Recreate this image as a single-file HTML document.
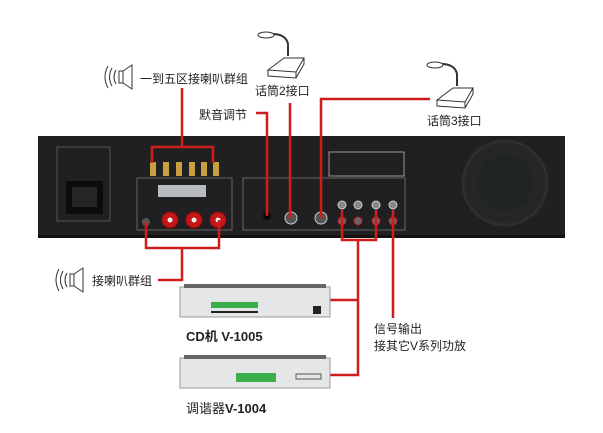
<!DOCTYPE html>
<html><head><meta charset="utf-8"><style>
body{margin:0;background:#fff;}
.t{position:absolute;font-family:"Liberation Sans","Noto Sans CJK SC",sans-serif;font-size:12px;color:#222;white-space:nowrap;}
</style></head><body>
<div style="position:relative;width:603px;height:433px;overflow:hidden">
<svg width="603" height="433" style="position:absolute;left:0;top:0">
<!-- back panel -->
<rect x="38" y="136" width="527" height="102" fill="#202022"/>
<rect x="38" y="235" width="527" height="3" fill="#111"/>
<rect x="57" y="147" width="53" height="74" fill="none" stroke="#555" stroke-width="1"/>
<rect x="66" y="181" width="37" height="33" fill="#0c0c0c"/>
<rect x="72" y="187" width="25" height="20" fill="#252525"/>
<rect x="137" y="178" width="95" height="52" fill="none" stroke="#666"/>
<rect x="158" y="185" width="48" height="12" fill="#b8bcc0"/>
<rect x="243" y="178" width="162" height="52" fill="none" stroke="#666"/>
<rect x="329" y="152" width="75" height="24" fill="none" stroke="#999"/>
<circle cx="505" cy="183" r="42" fill="#262628" stroke="#2e2e30" stroke-width="3"/>
<circle cx="505" cy="183" r="28" fill="#1f2522"/>
<g fill="#c9a040">
<rect x="150" y="162" width="6" height="14"/><rect x="163" y="162" width="6" height="14"/><rect x="176" y="162" width="6" height="14"/><rect x="189" y="162" width="6" height="14"/><rect x="201" y="162" width="6" height="14"/><rect x="213" y="162" width="6" height="14"/>
</g>
<g fill="#c41818" stroke="#8a0e0e"><circle cx="170" cy="220" r="8"/><circle cx="194" cy="220" r="8"/><circle cx="218" cy="220" r="8"/></g>
<g fill="#eee"><circle cx="170" cy="220" r="2.5"/><circle cx="194" cy="220" r="2.5"/><circle cx="218" cy="220" r="2.5"/></g>
<circle cx="146" cy="222" r="4" fill="#555"/>
<circle cx="267" cy="216" r="4" fill="#0a0a0a"/>
<circle cx="291" cy="218" r="6" fill="#555" stroke="#ccc"/>
<circle cx="321" cy="218" r="6" fill="#555" stroke="#ccc"/>
<g stroke="#ccc" fill="#888"><circle cx="342" cy="205" r="4"/><circle cx="358" cy="205" r="4"/><circle cx="376" cy="205" r="4"/><circle cx="393" cy="205" r="4"/></g>
<g stroke="#c41818" fill="#666"><circle cx="342" cy="221" r="4"/><circle cx="358" cy="221" r="4"/><circle cx="376" cy="221" r="4"/><circle cx="393" cy="221" r="4"/></g>
<!-- red lines -->
<g stroke="#d01c1c" stroke-width="2.5" fill="none">
<path d="M182 88 V147 M152 163 V147 H213 V163"/>
<path d="M256 113 H267 V216"/>
<path d="M290 103 V218"/>
<path d="M430 99 H321 V218"/>
<path d="M146 222 V248 H219 V220 M182 248 V280 H158"/>
<path d="M342 210 V240 H376 V210 M358 240 V375 H330 M358 300 H330"/>
<path d="M393 210 V318"/>
</g>
<!-- mics -->
<g stroke="#333" fill="#fff" stroke-width="1">
<path d="M288 56 V44 Q286 34 272 34" fill="none" stroke-width="2"/>
<ellipse cx="266" cy="35" rx="8" ry="3"/>
<path d="M268 70 L284 58 H304 L296 72 Z M268 70 V76 L296 78 V72 M296 78 L304 64 V58"/>
<path d="M457 86 V74 Q455 64 441 64" fill="none" stroke-width="2"/>
<ellipse cx="435" cy="65" rx="8" ry="3"/>
<path d="M437 100 L453 88 H473 L465 102 Z M437 100 V106 L465 108 V102 M465 108 L473 94 V88"/>
</g>
<!-- speakers -->
<g stroke="#333" fill="none">
<path d="M119 71 h4 v12 h-4 z M123 71 L132 65 V89 L123 83"/>
<path d="M116 70 q-4 7 0 14 M112 68 q-5 9 0 18 M108 66 q-6 11 0 22"/>
<path d="M70 274 h4 v12 h-4 z M74 274 L83 268 V292 L74 286"/>
<path d="M67 273 q-4 7 0 14 M63 271 q-5 9 0 18 M59 269 q-6 11 0 22"/>
</g>
<!-- devices -->
<rect x="180" y="287" width="150" height="30" fill="#e4e6e8" stroke="#999"/>
<rect x="184" y="284" width="142" height="4" fill="#666"/>
<rect x="211" y="302" width="47" height="6" fill="#3bb04a"/>
<rect x="211" y="311" width="47" height="2" fill="#222"/>
<rect x="313" y="306" width="8" height="8" fill="#222"/>
<rect x="180" y="358" width="150" height="30" fill="#e4e6e8" stroke="#999"/>
<rect x="184" y="355" width="142" height="4" fill="#666"/>
<rect x="236" y="373" width="40" height="9" fill="#3bb04a"/>
<rect x="296" y="374" width="25" height="5" fill="none" stroke="#555"/>
</svg>
<div class="t" style="left:140px;top:70px">一到五区接喇叭群组</div>
<div class="t" style="left:255px;top:82px">话筒2接口</div>
<div class="t" style="left:427px;top:112px">话筒3接口</div>
<div class="t" style="left:199px;top:106px">默音调节</div>
<div class="t" style="left:92px;top:272px">接喇叭群组</div>
<div class="t" style="left:186px;top:326px;font-weight:bold;font-size:13px">CD机 V-1005</div>
<div class="t" style="left:186px;top:398px;font-size:13px">调谐器<b>V-1004</b></div>
<div class="t" style="left:374px;top:320px">信号输出</div>
<div class="t" style="left:374px;top:337px">接其它V系列功放</div>
</div>
</body></html>
